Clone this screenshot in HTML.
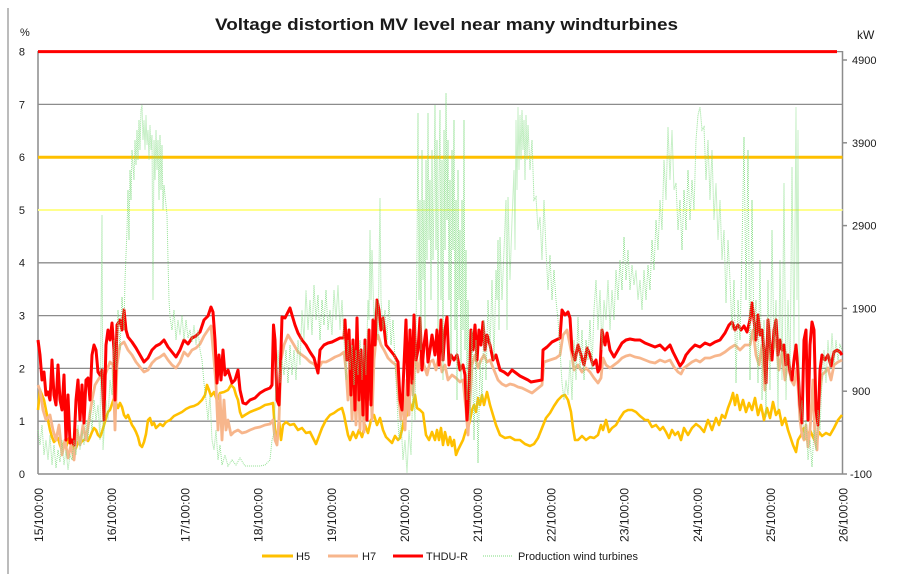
<!DOCTYPE html>
<html>
<head>
<meta charset="utf-8">
<style>
  html,body{margin:0;padding:0;background:#fff;}
  svg{display:block;}
  text{font-family:"Liberation Sans",Arial,sans-serif;fill:#1a1a1a;}
</style>
</head>
<body>
<svg width="905" height="574" viewBox="0 0 905 574" xmlns="http://www.w3.org/2000/svg">
  <rect x="0" y="0" width="905" height="574" fill="#fff"/>
  <!-- outer frame left line -->
  <line x1="8" y1="8" x2="8" y2="574" stroke="#a6a6a6" stroke-width="1.5"/>

  <!-- title -->
  <text x="215" y="30" font-size="17" font-weight="bold" textLength="463" lengthAdjust="spacingAndGlyphs">Voltage distortion  MV level near many windturbines</text>

  <!-- axis unit labels -->
  <text x="20" y="36" font-size="11">%</text>
  <text x="857" y="39" font-size="12">kW</text>

  <!-- gridlines -->
  <g stroke="#8c8c8c" stroke-width="1.3">
    <line x1="38" y1="51.6" x2="842.5" y2="51.6"/>
    <line x1="38" y1="104.4" x2="842.5" y2="104.4"/>
    <line x1="38" y1="157.2" x2="842.5" y2="157.2"/>
    <line x1="38" y1="210" x2="842.5" y2="210"/>
    <line x1="38" y1="262.8" x2="842.5" y2="262.8"/>
    <line x1="38" y1="315.6" x2="842.5" y2="315.6"/>
    <line x1="38" y1="368.4" x2="842.5" y2="368.4"/>
    <line x1="38" y1="421.2" x2="842.5" y2="421.2"/>
  </g>
  <!-- axes -->
  <g stroke="#8c8c8c" stroke-width="1.5">
    <line x1="38" y1="51" x2="38" y2="474"/>
    <line x1="38" y1="474" x2="842.5" y2="474"/>
    <line x1="842.5" y1="51" x2="842.5" y2="474"/>
    <line x1="842.5" y1="60" x2="847" y2="60"/>
    <line x1="842.5" y1="142.8" x2="847" y2="142.8"/>
    <line x1="842.5" y1="225.6" x2="847" y2="225.6"/>
    <line x1="842.5" y1="308.4" x2="847" y2="308.4"/>
    <line x1="842.5" y1="391.2" x2="847" y2="391.2"/>
    <line x1="842.5" y1="474" x2="847" y2="474"/>
  </g>

  <!-- limit lines -->
  <line x1="38" y1="210" x2="842.5" y2="210" stroke="#FFFF8C" stroke-width="2"/>
  <line x1="38" y1="157.2" x2="842.5" y2="157.2" stroke="#FFC000" stroke-width="3"/>
  <line x1="38" y1="51.6" x2="837" y2="51.6" stroke="#FF0000" stroke-width="3"/>

  <!-- left tick labels -->
  <g font-size="11" text-anchor="end">
    <text x="25" y="55.5">8</text>
    <text x="25" y="108.3">7</text>
    <text x="25" y="161.1">6</text>
    <text x="25" y="213.9">5</text>
    <text x="25" y="266.7">4</text>
    <text x="25" y="319.5">3</text>
    <text x="25" y="372.3">2</text>
    <text x="25" y="425.1">1</text>
    <text x="25" y="477.9">0</text>
  </g>
  <!-- right tick labels -->
  <g font-size="11">
    <text x="852" y="64">4900</text>
    <text x="852" y="146.8">3900</text>
    <text x="852" y="229.6">2900</text>
    <text x="852" y="312.4">1900</text>
    <text x="852" y="395.2">900</text>
    <text x="850" y="478">-100</text>
  </g>

  <!-- x tick labels -->
  <g font-size="11.5" text-anchor="end">
    <text transform="translate(39,488) rotate(-90)" dy="0.35em" textLength="54" lengthAdjust="spacingAndGlyphs">15/100:00</text>
    <text transform="translate(112.2,488) rotate(-90)" dy="0.35em" textLength="54" lengthAdjust="spacingAndGlyphs">16/100:00</text>
    <text transform="translate(185.4,488) rotate(-90)" dy="0.35em" textLength="54" lengthAdjust="spacingAndGlyphs">17/100:00</text>
    <text transform="translate(258.6,488) rotate(-90)" dy="0.35em" textLength="54" lengthAdjust="spacingAndGlyphs">18/100:00</text>
    <text transform="translate(331.8,488) rotate(-90)" dy="0.35em" textLength="54" lengthAdjust="spacingAndGlyphs">19/100:00</text>
    <text transform="translate(405,488) rotate(-90)" dy="0.35em" textLength="54" lengthAdjust="spacingAndGlyphs">20/100:00</text>
    <text transform="translate(478.2,488) rotate(-90)" dy="0.35em" textLength="54" lengthAdjust="spacingAndGlyphs">21/100:00</text>
    <text transform="translate(551.4,488) rotate(-90)" dy="0.35em" textLength="54" lengthAdjust="spacingAndGlyphs">22/100:00</text>
    <text transform="translate(624.6,488) rotate(-90)" dy="0.35em" textLength="54" lengthAdjust="spacingAndGlyphs">23/100:00</text>
    <text transform="translate(697.8,488) rotate(-90)" dy="0.35em" textLength="54" lengthAdjust="spacingAndGlyphs">24/100:00</text>
    <text transform="translate(771,488) rotate(-90)" dy="0.35em" textLength="54" lengthAdjust="spacingAndGlyphs">25/100:00</text>
    <text transform="translate(843.5,488) rotate(-90)" dy="0.35em" textLength="54" lengthAdjust="spacingAndGlyphs">26/100:00</text>
  </g>

  <!-- H5 -->
  <polyline fill="none" stroke="#FFC000" stroke-width="2.6" stroke-linejoin="round" points="38,410 40,390 42,395 44,400 46,410 48,420 50,430 52,437 54,442 56,440 58,438 60,445 62,450 64,443 66,448 68,440 70,437 72,445 74,450 76,448 78,442 80,444 82,441 84,440 86,439 88,441 90,437 92,432 94,428 96,430 98,435 100,437 102,432 104,425 106,418 108,412 110,410 112,404 114,398 116,403 118,408 120,403 122,407 124,415 126,418 128,415 130,420 132,425 134,428 136,432 138,437 140,445 142,447 144,442 146,434 148,420 150,418 152,425 154,423 156,428 158,426 160,424 163,426 166,422 170,420 174,416 178,414 182,412 186,409 190,407 194,406 198,404 202,400 205,395 207,385 209,390 211,396 214,392 217,400 220,393 224,392 228,390 231,385 234,388 236,395 238,400 240,412 242,417 245,415 250,412 255,410 260,408 265,405 270,404 273,403 275,430 277,443 279,420 281,440 283,425 286,422 290,425 294,424 298,430 302,428 306,433 310,432 314,440 316,444 319,436 322,428 326,420 330,415 334,413 338,410 342,408 344,415 346,425 348,435 350,440 353,432 356,438 359,430 362,437 365,425 368,433 371,420 374,415 377,425 380,418 383,430 386,437 389,440 392,443 395,436 398,440 400,438 402,430 404,420 407,415 409,400 412,410 415,395 417,408 420,410 423,413 426,435 429,440 432,432 435,440 437,430 439,440 441,428 443,445 445,432 448,445 450,437 452,446 454,440 456,455 458,450 460,446 463,440 466,430 468,428 470,420 472,410 474,405 476,412 478,398 480,405 482,395 484,405 487,392 490,405 493,415 496,425 500,435 505,438 510,437 515,440 520,440 525,444 530,446 534,444 538,438 542,428 546,418 550,413 554,406 558,400 562,396 565,395 568,400 571,412 573,428 575,440 578,440 582,436 586,440 590,437 594,438 598,435 601,425 603,430 606,420 609,432 612,428 616,425 620,418 624,412 628,410 632,410 636,412 640,416 645,420 648,420 652,427 656,425 660,430 663,427 666,432 669,438 672,430 675,435 678,432 681,440 684,428 688,435 692,428 696,424 700,427 704,432 708,420 712,430 716,418 719,425 722,415 725,418 728,408 731,400 733,393 735,405 737,395 740,410 743,400 746,412 749,403 752,410 755,398 758,415 761,405 764,420 767,408 770,418 773,402 776,415 779,410 782,425 785,418 788,430 790,436 793,445 796,452 798,440 801,435 804,428 807,440 810,430 813,437 816,443 819,432 822,436 826,433 830,435 834,428 838,420 842,415"/>

  <!-- H7 -->
  <polyline fill="none" stroke="#F7B68C" stroke-width="2.8" stroke-linejoin="round" points="38,385 40,390 43,410 46,420 50,415 53,430 56,440 59,425 62,455 65,440 68,458 71,445 74,460 77,430 80,445 83,425 86,440 89,420 92,400 95,385 98,380 101,375 104,378 107,370 110,362 113,365 115,430 117,365 120,345 124,342 128,350 132,355 136,362 140,367 144,372 148,370 152,363 156,359 160,357 164,354 168,360 172,365 176,368 180,362 184,352 188,356 192,350 196,348 200,344 204,336 208,330 211,326 214,360 216,385 218,430 220,395 222,440 224,400 226,430 228,420 231,435 234,432 238,430 242,433 246,432 250,430 255,428 260,427 265,425 270,424 273,420 275,440 277,445 279,420 281,360 284,345 288,335 291,340 294,345 298,352 302,355 306,358 310,362 314,364 318,370 322,362 326,362 330,360 335,357 340,355 344,352 346,370 348,400 350,360 352,420 354,380 356,425 358,365 360,430 362,370 364,432 366,375 368,400 370,350 372,420 374,360 376,340 378,335 381,345 384,350 388,358 392,362 396,365 399,400 401,420 403,390 405,430 407,380 409,415 411,360 413,395 415,350 418,372 421,355 424,365 427,375 430,362 433,360 436,370 439,355 442,372 445,365 448,380 452,375 456,378 460,382 463,380 466,410 468,435 470,400 472,365 475,355 478,368 481,360 484,355 487,362 490,360 494,370 498,380 502,384 506,386 510,384 514,385 518,387 522,388 526,390 530,392 532,393 542,385 544,362 550,360 556,358 560,355 563,335 567,330 571,350 574,370 578,365 582,372 586,368 590,372 594,378 598,383 601,378 603,358 606,365 610,368 614,365 618,362 622,358 626,356 630,355 635,357 640,358 645,360 650,362 655,363 660,360 665,362 670,360 674,367 678,372 681,374 684,368 688,365 692,362 696,360 700,362 705,358 710,358 715,356 720,355 725,352 730,348 735,345 740,350 745,345 750,345 753,330 756,355 759,365 762,345 765,390 767,345 770,360 773,350 776,340 779,370 782,352 785,380 788,360 791,380 794,385 797,368 800,420 802,435 804,440 806,425 808,447 810,430 813,380 815,440 817,450 819,400 822,375 825,372 828,368 831,380 834,365 838,362 842,360"/>

  <!-- THDU-R -->
  <polyline fill="none" stroke="#FF0000" stroke-width="3" stroke-linejoin="round" points="38,340 40,355 42,380 44,372 46,395 48,392 50,400 52,360 54,395 56,405 58,365 60,400 62,410 64,375 66,440 68,395 70,443 72,440 74,445 76,400 78,380 80,420 82,385 84,423 86,380 88,378 90,400 92,355 94,345 96,350 98,372 100,375 102,370 104,420 106,345 108,330 110,340 112,323 114,350 115,400 117,325 120,320 122,330 124,310 126,330 128,337 132,342 136,348 140,355 144,362 148,358 152,350 156,346 160,344 164,340 168,347 172,352 176,357 180,350 184,340 188,344 192,338 196,336 200,332 204,320 208,316 211,307 213,312 215,340 217,383 219,355 221,380 223,350 225,375 228,370 232,383 235,380 238,370 240,390 243,403 246,404 250,400 255,398 260,393 265,390 270,388 272,385 273.5,325 275,340 277,400 279,405 281,350 282,317 285,318 288,312 290,308 292,315 295,325 298,333 302,340 306,345 310,352 314,358 318,373 320,350 324,345 328,343 332,342 336,340 340,338 344,338 345,320 347,360 349,330 351,395 353,340 355,410 357,318 359,400 361,350 363,415 365,340 367,420 369,330 371,405 373,320 375,345 377,300 379,310 381,330 383,318 386,345 390,350 394,355 398,362 400,400 402,410 404,365 406,320 408,395 410,330 412,383 414,315 416,360 418,350 420,318 422,370 424,345 426,330 428,362 430,350 432,335 435,355 437,330 439,365 441,320 443,360 445,330 447,317 449,365 451,355 454,360 457,355 460,370 463,365 465,375 467,420 469,390 471,330 473,350 475,325 477,360 479,330 481,345 483,322 485,350 487,335 490,345 493,360 496,355 500,370 504,372 508,375 512,370 516,373 520,376 524,378 528,380 531,382 542,380 543,350 547,347 552,342 556,340 560,338 562,310 565,315 568,312 570,318 572,350 575,360 578,345 581,355 584,365 587,348 590,355 593,365 596,360 598,372 600,368 602,330 605,345 607,333 610,350 614,357 618,350 622,343 626,340 630,339 635,340 640,340 645,343 650,345 655,347 660,345 665,350 670,345 673,352 677,360 680,366 683,362 686,355 690,350 695,345 700,347 705,343 710,345 715,342 720,340 725,333 729,325 732,322 735,330 738,325 741,330 744,326 747,332 750,320 752,303 754,320 756,340 758,315 760,335 762,330 764,350 766,383 768,320 770,345 772,360 774,330 776,320 778,355 780,340 782,350 784,345 786,365 788,355 790,372 792,380 794,360 796,345 798,370 800,405 802,423 804,340 806,330 807,380 808,420 810,345 812,322 814,330 816,410 818,425 820,370 822,355 825,360 828,355 831,366 834,352 837,350 840,352 842,355"/>

  <!-- Production wind turbines -->
  <polyline fill="none" stroke="#7FDC7F" stroke-width="1" stroke-dasharray="1 1" stroke-opacity="0.85" points="38,430 40,445 42,425 44,455 46,440 48,460 50,435 52,465 54,445 56,468 58,450 60,462 62,440 64,465 66,450 68,470 70,455 72,460 74,440 76,455 78,425 80,450 82,430 84,445 86,420 88,440 90,410 92,430 94,400 96,420 98,405 100,440 102,215 103,450 106,400 108,420 110,380 112,395 114,340 116,370 118,310 120,350 122,297 124,330 125,280 127,230 128,190 129,240 130,170 131,200 132,150 134,180 135,140 136,165 137,130 138,160 139,120 140,150 141,110 142,105 143,140 144,120 145,150 146,115 147,145 148,130 149,160 150,125 151,150 152,135 153,300 154,140 155,180 156,130 157,170 158,140 159,200 160,135 161,190 162,145 163,210 164,185 165,195 166,205 167,215 168,260 169,300 170,317 172,330 174,310 176,340 178,320 180,335 182,315 184,340 186,320 188,338 190,330 192,342 194,325 196,345 198,330 200,350 202,360 204,383 206,400 208,420 210,395 212,440 214,450 216,430 218,460 220,445 222,465 225,455 228,466 232,460 236,465 240,458 245,466 250,466 255,466 260,466 265,465 270,460 272,440 274,433 276,380 278,350 280,383 282,360 284,375 286,350 288,383 290,345 292,375 294,350 296,380 298,340 300,365 302,310 304,340 306,290 308,330 310,300 312,335 314,285 316,320 318,295 320,340 322,300 324,325 326,290 328,330 330,310 332,335 334,290 336,320 338,285 340,330 342,300 344,340 346,380 348,340 350,370 352,345 354,385 356,350 358,375 360,340 362,380 364,345 366,375 368,300 369,320 370,230 371,300 372,250 374,320 376,300 378,340 380,198 381,300 383,330 385,310 387,340 389,300 391,345 393,320 395,360 397,400 399,440 401,420 403,460 405,440 407,473 409,430 411,455 413,380 415,420 417,250 418,113 419,300 420,200 421,350 422,150 423,280 424,200 425,330 426,160 427,260 428,113 429,240 430,180 431,300 432,150 433,260 434,200 435,105 436,250 437,140 438,330 439,180 440,110 441,300 442,160 443,380 444,130 445,250 446,93 447,220 448,140 449,300 450,180 451,360 452,150 453,250 454,120 455,330 456,200 457,400 458,170 459,300 460,230 461,380 462,200 463,330 464,120 465,350 466,250 467,400 468,300 470,420 472,330 474,440 476,340 478,463 480,360 482,400 484,320 486,380 488,300 490,350 492,280 494,360 496,270 497,300 498,240 499,330 500,237 502,300 504,250 506,200 507,330 508,197 510,280 512,220 514,170 515,250 516,120 517,190 518,107 519,170 520,115 521,160 522,110 523,150 524,120 525,180 526,115 527,160 528,125 530,170 532,140 534,200 536,197 538,230 540,217 542,260 544,200 546,250 548,290 550,255 552,300 554,270 556,300 558,320 560,350 562,383 564,400 566,380 568,395 570,360 572,400 574,340 576,380 578,317 580,370 582,330 584,380 586,340 588,360 590,320 592,370 594,310 596,280 598,330 600,290 602,350 604,300 606,320 608,280 610,330 612,290 614,320 616,270 618,300 620,260 622,290 624,237 626,280 628,250 630,290 632,265 634,285 636,270 638,300 640,280 642,310 644,270 646,300 648,265 650,290 652,240 654,270 656,220 658,250 660,200 662,230 664,160 666,200 668,127 670,180 672,130 674,190 676,183 678,230 680,200 682,250 684,190 686,230 688,170 690,220 692,180 694,210 696,140 698,115 700,107 702,130 704,127 706,180 708,140 710,200 712,150 714,220 716,183 718,240 720,200 722,260 724,230 726,303 728,240 730,280 732,330 734,280 736,383 738,300 740,340 742,250 744,137 746,300 748,150 750,380 752,200 754,340 756,300 758,383 760,260 762,400 764,320 766,417 768,280 770,390 772,230 774,350 776,300 778,410 780,260 782,380 784,183 786,400 788,300 790,380 792,167 794,350 796,107 797,300 798,130 799,350 800,420 802,400 804,440 806,420 808,460 810,440 812,467 814,430 816,450 818,410 820,430 822,380 824,350 826,383 828,340 830,370 832,333 834,365 836,340 838,360 840,345 842,350"/>

  <!-- legend -->
  <line x1="262" y1="556" x2="293" y2="556" stroke="#FFC000" stroke-width="3"/>
  <text x="296" y="560" font-size="11">H5</text>
  <line x1="328" y1="556" x2="358" y2="556" stroke="#F7B68C" stroke-width="3"/>
  <text x="362" y="560" font-size="11">H7</text>
  <line x1="393" y1="556" x2="423" y2="556" stroke="#FF0000" stroke-width="3"/>
  <text x="426" y="560" font-size="11" textLength="42" lengthAdjust="spacingAndGlyphs">THDU-R</text>
  <line x1="483" y1="556" x2="513" y2="556" stroke="#7FDC7F" stroke-width="1" stroke-dasharray="1 1"/>
  <text x="518" y="560" font-size="11" textLength="120" lengthAdjust="spacingAndGlyphs">Production wind turbines</text>
</svg>
</body>
</html>
